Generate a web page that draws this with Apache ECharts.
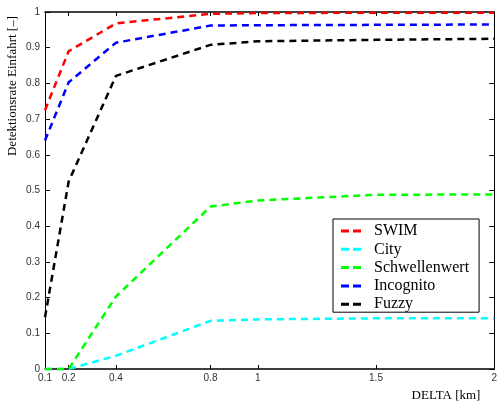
<!DOCTYPE html>
<html>
<head>
<meta charset="utf-8">
<script src="https://cdn.jsdelivr.net/npm/echarts@6/dist/echarts.min.js"></script>
<style>
  html, body { margin: 0; padding: 0; background: #fff; }
  #chart { width: 500px; height: 403px; }
</style>
</head>
<body>
<div id="chart"></div>
<script>
// DELTA values [km] at which detection rates were evaluated
const deltaKm = [0.1, 0.2, 0.4, 0.8, 1, 1.5, 2];
const xTickValues = [0.1, 0.2, 0.4, 0.8, 1, 1.5, 2];

// Detection rate per method
const swim          = [0.725, 0.89, 0.968, 0.995, 0.997, 0.998, 0.998];
const city          = [0, 0, 0.037, 0.135, 0.139, 0.142, 0.142];
const schwellenwert = [0, 0, 0.203, 0.455, 0.472, 0.488, 0.489];
const incognito     = [0.64, 0.803, 0.914, 0.962, 0.963, 0.964, 0.965];
const fuzzy         = [0.145, 0.525, 0.821, 0.908, 0.918, 0.922, 0.925];

const seriesNames  = ['SWIM', 'City', 'Schwellenwert', 'Incognito', 'Fuzzy'];
const seriesValues = [swim, city, schwellenwert, incognito, fuzzy];
const seriesColors = ['#ff0000', '#00ffff', '#00ff00', '#0000ff', '#000000'];

const chart = echarts.init(document.getElementById('chart'), null, { renderer: 'canvas' });

const tickFont = { fontFamily: 'Liberation Sans, Arial, sans-serif', fontSize: 10, color: '#333' };

// Two short dashes as the legend sample
const dashIcon = 'path://M0,0h8v3h-8z M12,0h8v3h-8z';

const option = {
  animation: false,
  backgroundColor: '#fff',
  grid: { left: 45, right: 1, top: 12, bottom: 34, containLabel: false },
  xAxis: [
    {
      type: 'value', min: 0.1, max: 2, position: 'bottom',
      axisLine: { show: true, onZero: false, lineStyle: { color: '#000', width: 1.5 } },
      axisTick: { show: true, inside: true, length: 4, customValues: xTickValues, lineStyle: { color: '#000' } },
      axisLabel: { show: true, customValues: xTickValues, margin: 4, ...tickFont, formatter: v => String(+v.toFixed(2)) },
      splitLine: { show: false }
    },
    {
      type: 'value', min: 0.1, max: 2, position: 'top',
      axisLine: { show: true, onZero: false, lineStyle: { color: '#000', width: 1.5 } },
      axisTick: { show: true, inside: true, length: 4, customValues: xTickValues, lineStyle: { color: '#000' } },
      axisLabel: { show: false },
      splitLine: { show: false }
    }
  ],
  yAxis: [
    {
      type: 'value', min: 0, max: 1, interval: 0.1, position: 'left',
      axisLine: { show: true, onZero: false, lineStyle: { color: '#000', width: 1 } },
      axisTick: { show: true, inside: true, length: 5, lineStyle: { color: '#000' } },
      axisLabel: { show: true, margin: 5, ...tickFont },
      splitLine: { show: false }
    },
    {
      type: 'value', min: 0, max: 1, interval: 0.1, position: 'right',
      axisLine: { show: true, onZero: false, lineStyle: { color: '#000', width: 1 } },
      axisTick: { show: true, inside: true, length: 5, lineStyle: { color: '#000' } },
      axisLabel: { show: false },
      splitLine: { show: false }
    }
  ],
  legend: {
    orient: 'vertical',
    left: 333, top: 219,
    padding: [4, 10, 0, 8],
    backgroundColor: '#fff',
    borderColor: '#000',
    borderWidth: 1,
    borderRadius: 0,
    icon: dashIcon,
    itemWidth: 20,
    itemHeight: 3,
    itemGap: 2.3,
    data: seriesNames,
    textStyle: { fontFamily: 'Liberation Serif, Times New Roman, serif', fontSize: 16, color: '#000', lineHeight: 16, padding: [0, 0, 0, 8] }
  },
  series: seriesNames.map((name, i) => ({
    name,
    type: 'line',
    xAxisIndex: 0,
    yAxisIndex: 0,
    symbol: 'none',
    clip: false,
    color: seriesColors[i],
    itemStyle: { color: seriesColors[i] },
    lineStyle: { color: seriesColors[i], width: 2.5, type: [7, 5] },
    data: deltaKm.map((x, j) => [x, seriesValues[i][j]])
  })),
  graphic: [
    {
      type: 'text',
      x: 13, y: 86,
      rotation: Math.PI / 2,
      style: {
        text: 'Detektionsrate Einfahrt [–]',
        fontFamily: 'Liberation Serif, Times New Roman, serif',
        fontSize: 13,
        fill: '#000',
        align: 'center',
        verticalAlign: 'middle'
      }
    },
    {
      type: 'text',
      x: 446, y: 396,
      style: {
        text: 'DELTA [km]',
        fontFamily: 'Liberation Serif, Times New Roman, serif',
        fontSize: 13,
        fill: '#000',
        align: 'center',
        verticalAlign: 'middle'
      }
    }
  ]
};

chart.setOption(option);
</script>
</body>
</html>
